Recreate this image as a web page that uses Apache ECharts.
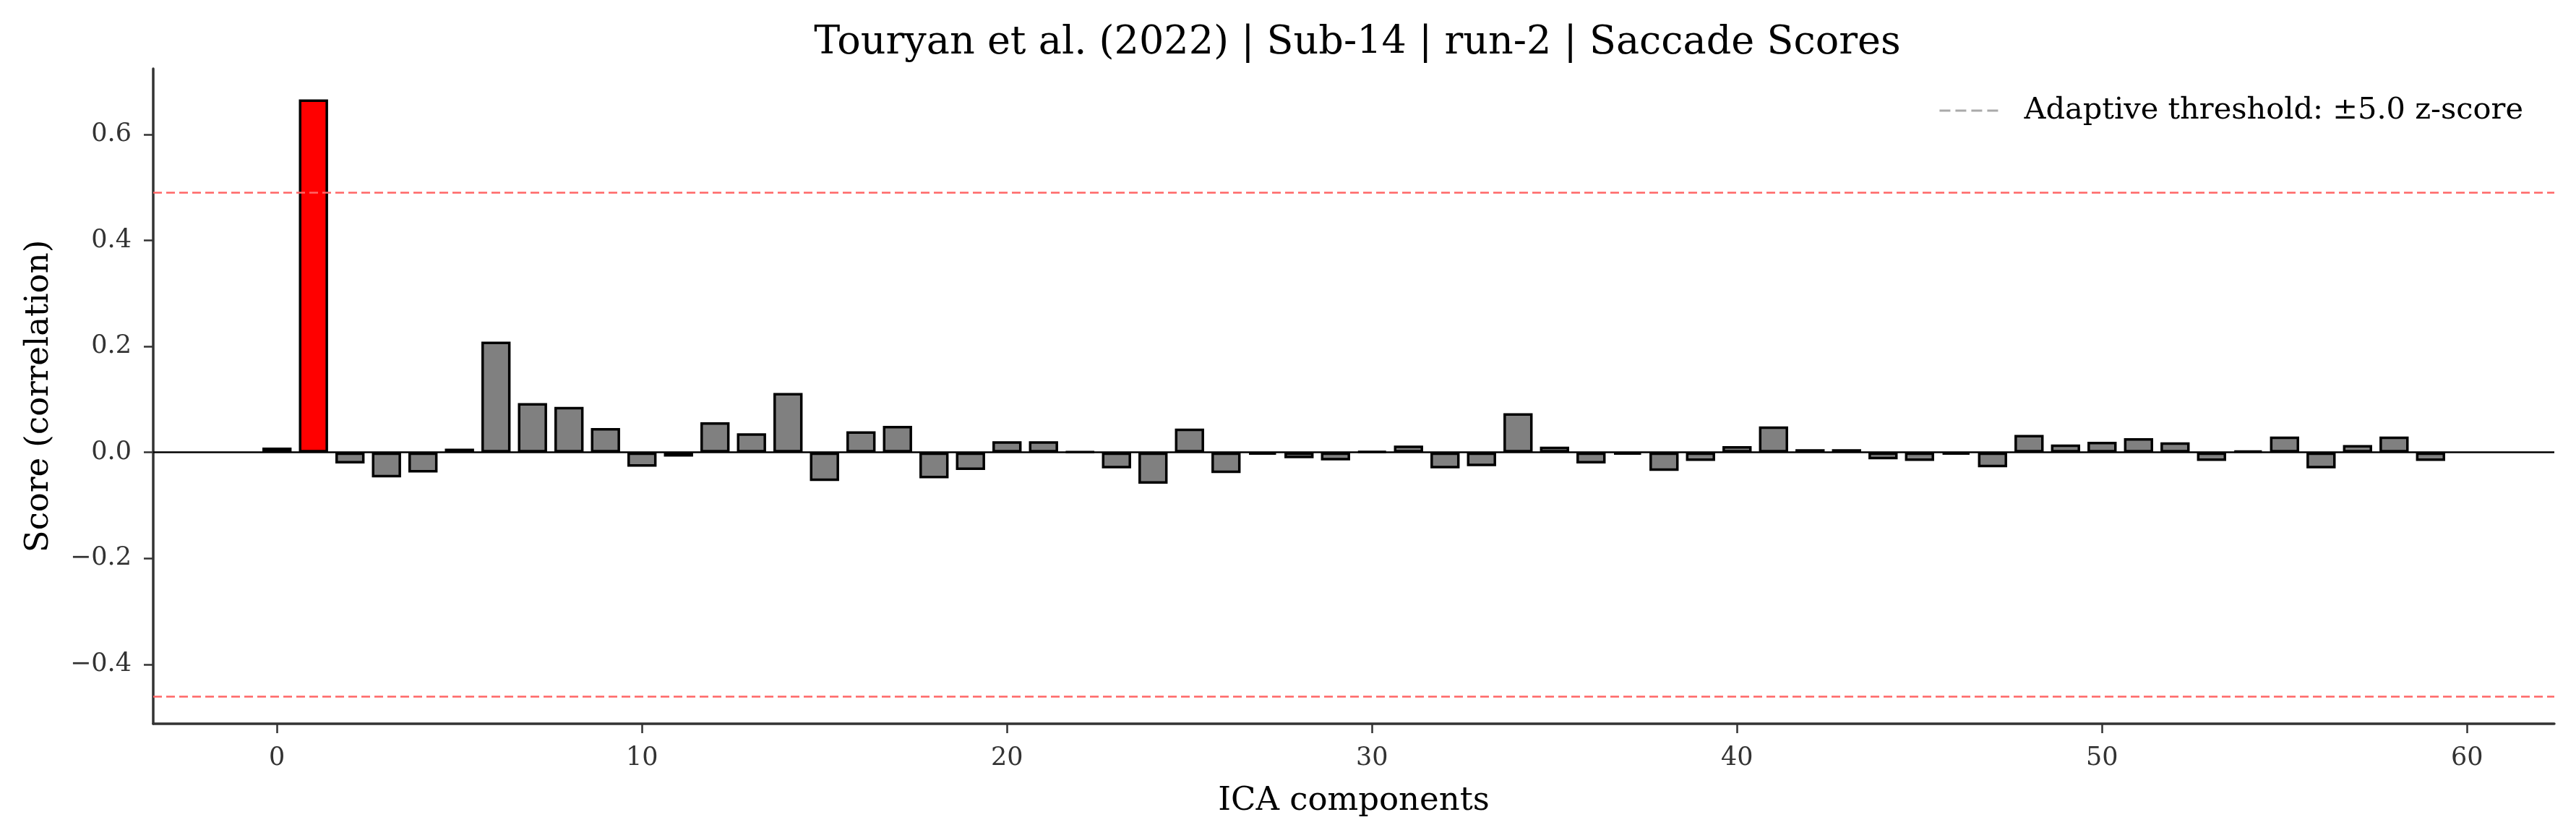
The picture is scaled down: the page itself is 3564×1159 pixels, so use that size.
<!DOCTYPE html>
<html lang="en">
<head>
    <meta charset="UTF-8">
    <title>Saccade Scores</title>
    <script src="https://cdn.jsdelivr.net/npm/echarts@6.0.0/dist/echarts.min.js"></script>
    <style>
        html, body { margin: 0; padding: 0; background: #fff; }
        #chart { width: 3564px; height: 1159px; }
    </style>
</head>
<body>
    <div id="chart"></div>
    <script>
        // ICA component scores
        var components = [];
        for (var i = 0; i < 60; i++) components.push(i);
        var scores = [
            0.009, 0.666, -0.021, -0.047, -0.038, 0.007, 0.209, 0.093, 0.086, 0.046,
            -0.027, -0.008, 0.057, 0.036, 0.112, -0.054, 0.040, 0.050, -0.049, -0.033,
            0.021, 0.021, 0.001, -0.030, -0.059, 0.045, -0.039, -0.004, -0.011, -0.015,
            0.002, 0.013, -0.030, -0.026, 0.074, 0.011, -0.021, -0.004, -0.035, -0.016,
            0.012, 0.049, 0.006, 0.006, -0.013, -0.016, -0.004, -0.028, 0.033, 0.015,
            0.020, 0.027, 0.019, -0.016, 0.003, 0.030, -0.030, 0.014, 0.030, -0.016
        ];
        var flagged = [1];
        var thresholds = [0.4925, -0.456];
        var xTicks = [0, 10, 20, 30, 40, 50, 60];
        var yTicks = [-0.4, -0.2, 0, 0.2, 0.4, 0.6];

        var font = 'DejaVu Serif';
        var chart = echarts.init(document.getElementById('chart'));

        var barData = components.map(function (c, k) {
            return {
                value: [c, scores[k]],
                itemStyle: { color: flagged.indexOf(c) >= 0 ? '#ff0000' : '#808080' }
            };
        });

        // four short dashes, like the legend handle in the figure
        var dashIcon = 'path://M0,0h15v3h-15zM22,0h15v3h-15zM44,0h15v3h-15zM66,0h15v3h-15z';

        var option = {
            animation: false,
            title: {
                text: 'Touryan et al. (2022) | Sub-14 | run-2 | Saccade Scores',
                left: 1873,
                textAlign: 'center',
                top: 28,
                textStyle: { fontFamily: font, fontSize: 54, fontWeight: 'normal', color: '#000' }
            },
            legend: {
                right: 68,
                top: 127,
                itemWidth: 81,
                itemHeight: 4,
                data: [{ name: 'Adaptive threshold: ±5.0 z-score', icon: dashIcon }],
                itemStyle: { color: '#aaaaaa' },
                textStyle: { fontFamily: font, fontSize: 41.5, color: '#000', padding: [0, 0, 0, 31] }
            },
            grid: { left: 212, right: 30, top: 95, bottom: 158 },
            xAxis: {
                type: 'value',
                min: -3.39,
                max: 62.39,
                name: 'ICA components',
                nameLocation: 'middle',
                nameGap: 85,
                nameTextStyle: { fontFamily: font, fontSize: 45, color: '#000' },
                axisLine: { onZero: false, lineStyle: { color: '#333', width: 3.5 } },
                axisTick: { customValues: xTicks, length: 13, lineStyle: { color: '#333', width: 2.5 } },
                axisLabel: { customValues: xTicks, margin: 30, fontFamily: font, fontSize: 35, color: '#333' },
                splitLine: { show: false }
            },
            yAxis: {
                type: 'value',
                min: -0.512,
                max: 0.724,
                name: 'Score (correlation)',
                nameLocation: 'middle',
                nameGap: 135,
                nameTextStyle: { fontFamily: font, fontSize: 45, color: '#000' },
                axisLine: { show: true, onZero: false, lineStyle: { color: '#333', width: 3.5 } },
                axisTick: { show: true, customValues: yTicks, length: 13, lineStyle: { color: '#333', width: 2.5 } },
                axisLabel: {
                    customValues: yTicks,
                    margin: 30,
                    fontFamily: font,
                    fontSize: 35,
                    color: '#333',
                    formatter: function (v) { return v.toFixed(1).replace('-', '\u2212'); }
                },
                splitLine: { show: false }
            },
            series: [
                {
                    type: 'bar',
                    barWidth: 40.4,
                    data: barData,
                    itemStyle: { borderColor: '#000', borderWidth: 3.5 },
                    markLine: {
                        silent: true,
                        symbol: 'none',
                        label: { show: false },
                        data: [
                            { yAxis: thresholds[0], lineStyle: { color: 'rgb(255,102,102)', width: 2.5, type: [12, 6] } },
                            { yAxis: thresholds[1], lineStyle: { color: 'rgb(255,102,102)', width: 2.5, type: [12, 6] } },
                            { yAxis: 0, lineStyle: { color: '#000', width: 2.5, type: 'solid' } }
                        ]
                    }
                },
                {
                    type: 'line',
                    name: 'Adaptive threshold: ±5.0 z-score',
                    symbol: 'none',
                    data: [],
                    lineStyle: { color: '#aaaaaa', width: 3, type: [12, 6] },
                    itemStyle: { color: '#aaaaaa' }
                }
            ]
        };

        chart.setOption(option);
    </script>
</body>
</html>
